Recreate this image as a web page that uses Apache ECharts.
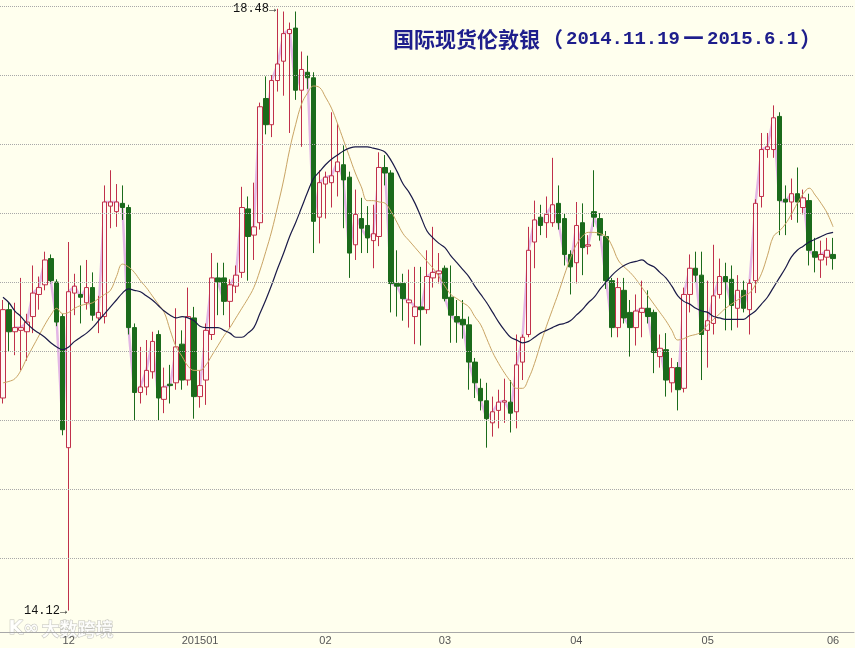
<!DOCTYPE html>
<html><head><meta charset="utf-8">
<script src="https://cdn.jsdelivr.net/npm/echarts/dist/echarts.min.js"></script>
<style>html,body{margin:0;padding:0;background:#FFFFEE;}#c{width:855px;height:648px;}</style>
</head><body><div id="c"></div>
<script>
// Trading days shown (month -> day numbers)
const tradingDays = [
  ['2014-11', [14,17,18,19,20,21,24,25,26,27,28]],
  ['2014-12', [1,2,3,4,5,8,9,10,11,12,15,16,17,18,19,22,23,24,26,29,30,31]],
  ['2015-01', [2,5,6,7,8,9,12,13,14,15,16,19,20,21,22,23,26,27,28,29,30]],
  ['2015-02', [2,3,4,5,6,9,10,11,12,13,16,17,18,19,20,23,24,25,26,27]],
  ['2015-03', [2,3,4,5,6,9,10,11,12,13,16,17,18,19,20,23,24,25,26,27,30,31]],
  ['2015-04', [1,2,3,6,7,8,9,10,13,14,15,16,17,20,21,22,23,24,27,28,29,30]],
  ['2015-05', [1,4,5,6,7,8,11,12,13,14,15,18,19,20,21,22,25,26,27,28,29]],
  ['2015-06', [1]]
];
const emptySlots = ['pad1','pad2','pad3'];
const monthLabels = {
  '2014-12-01':'12','2015-01-02':'201501','2015-02-02':'02','2015-03-02':'03',
  '2015-04-01':'04','2015-05-01':'05','2015-06-01':'06'
};
const gridValues = [14.5,15,15.5,16,16.5,17,17.5,18,18.5];

const open = [15.66,16.30,16.14,16.15,16.14,16.25,16.41,16.48,16.67,16.50, 16.25,15.30,16.42,16.41,16.35,16.46,16.24,16.25,17.05,17.01,
 17.07,17.04,16.17,15.70,15.74,15.85,16.12,15.65,15.76,15.77, 16.05,15.79,16.24,15.67,15.79,16.12,16.53,16.53,16.36,16.47,
 16.57,17.03,16.84,16.93,17.83,17.64,17.96,18.10,18.30,18.34, 17.89,18.02,17.98,16.97,17.21,17.22,17.30,17.35,17.26,16.77,
 16.96,16.91,16.80,16.83,17.33,17.29,16.49,16.49,16.35,16.25, 16.32,16.30,16.53,16.56,16.60,16.39,16.25,16.23,16.19,15.92,
 15.73,15.64,15.48,15.57,15.63,15.63,15.56,15.92,16.12,16.79, 16.97,16.93,16.93,17.07,16.96,16.70,16.64,16.93,16.76,17.01,
 16.96,16.83,16.51,16.17,16.44,16.28,16.17,16.28,16.31,16.28, 15.96,16.01,15.77,15.88,15.73,16.41,16.60,16.55,16.15,16.20,
 16.41,16.54,16.52,16.31,16.44,16.30,16.51,17.12,17.46,17.46, 17.70,17.10,17.08,17.14,17.04,17.09,16.72,16.66,16.68,16.70];
const close = [16.30,16.14,16.17,16.17,16.21,16.42,16.46,16.66,16.51,16.21, 15.43,16.43,16.47,16.39,16.46,16.26,16.28,17.08,17.08,17.08,
 17.04,16.17,15.70,15.74,15.86,16.07,15.66,15.74,15.75,16.03, 15.79,16.25,15.67,15.75,16.15,16.53,16.50,16.36,16.48,16.55,
 17.04,16.83,16.90,17.77,17.64,17.96,18.08,18.30,18.33,17.89, 18.04,17.98,16.94,17.22,17.26,17.27,17.37,17.24,16.71,16.99,
 16.89,16.82,16.85,17.33,17.29,16.49,16.47,16.38,16.37,16.32, 16.30,16.54,16.57,16.58,16.38,16.26,16.21,16.19,15.92,15.77,
 15.64,15.51,15.56,15.63,15.64,15.55,15.90,16.10,16.73,16.95, 16.91,16.99,17.06,16.93,16.70,16.61,16.91,16.75,16.77,16.97,
 16.84,16.51,16.17,16.46,16.24,16.17,16.29,16.31,16.25,15.99, 16.02,15.79,15.88,15.72,16.41,16.60,16.55,16.12,16.22,16.40,
 16.54,16.50,16.33,16.44,16.31,16.49,17.07,17.46,17.48,17.69, 17.09,17.08,17.14,17.08,17.11,16.73,16.68,16.70,16.73,16.67];
const low = [15.62,16.00,15.97,15.86,15.93,16.13,16.30,16.44,16.49,16.18, 15.39,14.12,16.26,16.20,16.30,16.22,16.13,16.20,16.89,16.90,
 16.95,16.12,15.50,15.62,15.68,15.80,15.50,15.55,15.62,15.72, 15.72,15.75,15.51,15.59,15.61,16.08,16.26,16.26,16.17,16.42,
 16.53,16.51,16.66,16.88,17.57,17.55,17.88,17.85,17.58,17.82, 17.48,17.90,16.71,16.78,16.96,17.04,17.12,16.89,16.53,16.66,
 16.71,16.71,16.60,16.76,17.20,16.28,16.25,16.22,16.17,16.05, 16.04,16.27,16.46,16.49,16.36,16.06,16.06,16.09,15.72,15.66,
 15.57,15.30,15.38,15.44,15.48,15.41,15.44,15.79,16.10,16.60, 16.84,16.82,16.90,16.88,16.62,16.41,16.49,16.55,16.70,16.90,
 16.80,16.45,16.10,16.10,16.20,15.96,16.04,16.10,16.20,15.84, 15.88,15.67,15.70,15.57,15.70,16.28,16.50,15.79,15.88,16.12,
 16.38,16.15,16.15,16.17,16.28,16.12,16.42,17.04,17.40,17.40, 16.84,16.84,16.95,16.93,16.99,16.62,16.57,16.53,16.62,16.59];
const high = [16.37,16.35,16.35,16.53,16.27,16.62,16.54,16.72,16.70,16.52, 16.27,16.79,16.56,16.62,16.66,16.57,16.40,17.20,17.31,17.21,
 17.20,17.06,16.20,16.03,16.08,16.14,16.15,15.88,15.90,16.31, 16.15,16.46,16.32,15.86,16.20,16.71,16.64,16.64,16.52,16.62,
 17.19,17.12,17.22,17.80,17.99,18.00,18.48,18.46,18.38,18.46, 18.17,18.14,18.02,17.31,17.30,17.73,17.65,17.49,17.30,17.17,
 17.11,17.05,17.06,17.44,17.42,17.31,16.73,16.56,16.59,16.61, 16.61,16.73,16.90,16.71,16.62,16.62,16.37,16.37,16.25,15.95,
 15.80,15.77,15.67,15.72,15.80,15.79,16.12,16.12,16.90,17.09, 17.06,17.12,17.40,17.20,17.00,16.73,17.08,17.07,16.84,17.31,
 17.00,16.87,16.53,16.53,16.53,16.37,16.41,16.51,16.44,16.30, 16.12,16.13,15.95,15.92,16.46,16.70,16.72,16.72,16.51,16.77,
 16.67,16.64,16.62,16.55,16.51,16.52,17.10,17.58,17.58,17.78, 17.73,17.20,17.25,17.33,17.17,17.14,16.82,16.80,16.82,16.82];
// moving averages as drawn in the picture
const maShort = [15.77,15.78,15.80,15.86,15.95,16.03,16.11,16.19,16.26,16.31, 16.27,16.28,16.31,16.33,16.34,16.35,16.38,16.41,16.44,16.54,
 16.63,16.61,16.57,16.51,16.46,16.40,16.34,16.28,16.15,16.03, 15.96,15.89,15.86,15.86,15.90,15.97,16.04,16.11,16.17,16.24,
 16.31,16.38,16.46,16.58,16.72,16.87,17.05,17.24,17.46,17.64, 17.79,17.87,17.92,17.91,17.84,17.76,17.65,17.53,17.41,17.29,
 17.19,17.09,17.09,17.08,17.07,17.01,16.93,16.85,16.80,16.75, 16.70,16.65,16.60,16.54,16.47,16.41,16.38,16.35,16.32,16.25,
 16.19,16.09,15.99,15.91,15.84,15.78,15.73,15.73,15.80,15.91, 16.05,16.18,16.30,16.42,16.55,16.67,16.77,16.83,16.86,16.86,
 16.85,16.83,16.76,16.66,16.61,16.57,16.52,16.46,16.40,16.34, 16.28,16.22,16.15,16.08,16.09,16.11,16.12,16.14,16.19,16.23,
 16.27,16.31,16.34,16.37,16.40,16.42,16.48,16.56,16.69,16.83, 16.87,16.92,16.99,17.07,17.14,17.18,17.13,17.07,17.00,16.90];
const maLong = [16.39,16.35,16.29,16.25,16.20,16.16,16.13,16.10,16.06,16.03, 16.01,16.03,16.07,16.10,16.13,16.17,16.22,16.27,16.32,16.37,
 16.42,16.45,16.44,16.43,16.40,16.37,16.33,16.29,16.26,16.24, 16.25,16.24,16.22,16.18,16.17,16.17,16.17,16.15,16.13,16.10,
 16.10,16.13,16.17,16.27,16.37,16.48,16.60,16.71,16.83,16.93, 17.04,17.15,17.25,17.30,17.35,17.39,17.42,17.45,17.47,17.48,
 17.48,17.48,17.47,17.46,17.44,17.38,17.30,17.21,17.15,17.07, 16.97,16.87,16.82,16.78,16.75,16.69,16.64,16.59,16.54,16.47,
 16.41,16.35,16.28,16.21,16.15,16.10,16.08,16.06,16.07,16.10, 16.13,16.15,16.17,16.19,16.20,16.22,16.26,16.30,16.35,16.39,
 16.45,16.50,16.55,16.59,16.62,16.64,16.65,16.66,16.63,16.61, 16.57,16.53,16.47,16.40,16.36,16.34,16.31,16.29,16.28,16.25,
 16.24,16.23,16.23,16.23,16.23,16.26,16.29,16.34,16.39,16.46, 16.53,16.60,16.68,16.73,16.76,16.79,16.81,16.83,16.85,16.86];

const categories = [];
tradingDays.forEach(([m, days]) => days.forEach(d => categories.push(m + '-' + String(d).padStart(2, '0'))));
emptySlots.forEach(s => categories.push(s));

const ohlc = open.map((o, i) => [o, close[i], low[i], high[i]]);
const hiIdx = high.indexOf(Math.max(...high));
const loIdx = low.indexOf(Math.min(...low));

const titleColor = '#1E1E8C';
const chart = echarts.init(document.getElementById('c'), null, {renderer: 'canvas', width: 855, height: 648});
chart.setOption({
  backgroundColor: '#FFFFEE',
  animation: false,
  title: {
    text: '{c|国际现货伦敦银}{p|（}{m|2014.11.19}{d|—}{m|2015.6.1}{p|）}',
    left: 388, top: 22,
    textStyle: {
      rich: {
        c: {fontFamily: 'Noto Sans CJK SC', fontSize: 21, fontWeight: 'bold', color: titleColor, lineHeight: 24},
        p: {fontFamily: 'Noto Sans CJK SC', fontSize: 21, fontWeight: 'bold', color: titleColor, lineHeight: 24, padding: [0, 3, 0, 2]},
        m: {fontFamily: 'Liberation Mono', fontSize: 19, fontWeight: 'bold', color: titleColor, lineHeight: 24},
        d: {fontFamily: 'DejaVu Sans', fontSize: 21, fontWeight: 'bold', color: titleColor, lineHeight: 24, padding: [0, 3, 0, 3]}
      }
    }
  },
  graphic: [{
    type: 'text', left: 8, top: 619, silent: true,
    style: {text: 'K∞', font: 'bold 19px "DejaVu Sans"', fill: 'rgba(255,255,255,0.85)', stroke: 'rgba(150,150,150,0.6)', lineWidth: 1}
  }, {
    type: 'text', left: 41, top: 620, silent: true,
    style: {text: '大数跨境', font: 'bold 18px "Noto Sans CJK SC"', fill: 'rgba(255,255,255,0.85)', stroke: 'rgba(150,150,150,0.6)', lineWidth: 1}
  }],
  grid: {left: -4, right: 1, top: 0, bottom: 16},
  xAxis: {
    type: 'category', data: categories, boundaryGap: true,
    axisLine: {lineStyle: {color: '#A8A8A8', width: 1}},
    axisTick: {show: false},
    splitLine: {show: false},
    axisLabel: {
      interval: (i, v) => monthLabels[v] !== undefined,
      formatter: v => monthLabels[v] || '',
      margin: 3, color: '#555', fontSize: 11,
      fontFamily: '"Liberation Sans Narrow", "Liberation Sans", sans-serif'
    }
  },
  yAxis: {type: 'value', min: 13.9645, max: 18.5435, show: false},
  series: [
    {
      name: 'closeLine', type: 'line', data: close, z: 1,
      showSymbol: false, silent: true,
      lineStyle: {color: 'rgba(200,110,220,0.5)', width: 2.5},
      markLine: {
        silent: true, symbol: ['none', 'none'], label: {show: false},
        lineStyle: {color: '#A8A8A8', type: 'dotted', width: 1},
        data: gridValues.map(v => ({yAxis: v}))
      }
    },
    {
      name: 'K', type: 'candlestick', data: ohlc, z: 2, barWidth: 5,
      itemStyle: {color: '#FFF8F4', color0: '#1B6B1B', borderColor: '#C0304A', borderColor0: '#1B6B1B', borderWidth: 1},
      markPoint: {
        symbol: 'rect', symbolSize: 1, itemStyle: {color: 'rgba(0,0,0,0)'},
        label: {show: true, position: 'left', distance: 1, color: '#111', fontSize: 12,
          fontFamily: '"Liberation Mono", monospace', formatter: p => p.value + '→'},
        data: [
          {coord: [categories[hiIdx], high[hiIdx]], value: high[hiIdx].toFixed(2)},
          {coord: [categories[loIdx], low[loIdx]], value: low[loIdx].toFixed(2)}
        ]
      }
    },
    {name: 'MA短', type: 'line', data: maShort, z: 3, showSymbol: false, smooth: 0.4,
      lineStyle: {color: '#C9A464', width: 1}},
    {name: 'MA长', type: 'line', data: maLong, z: 3, showSymbol: false, smooth: 0.4,
      lineStyle: {color: '#1A1A48', width: 1.2}}
  ]
});
</script>
</body></html>
